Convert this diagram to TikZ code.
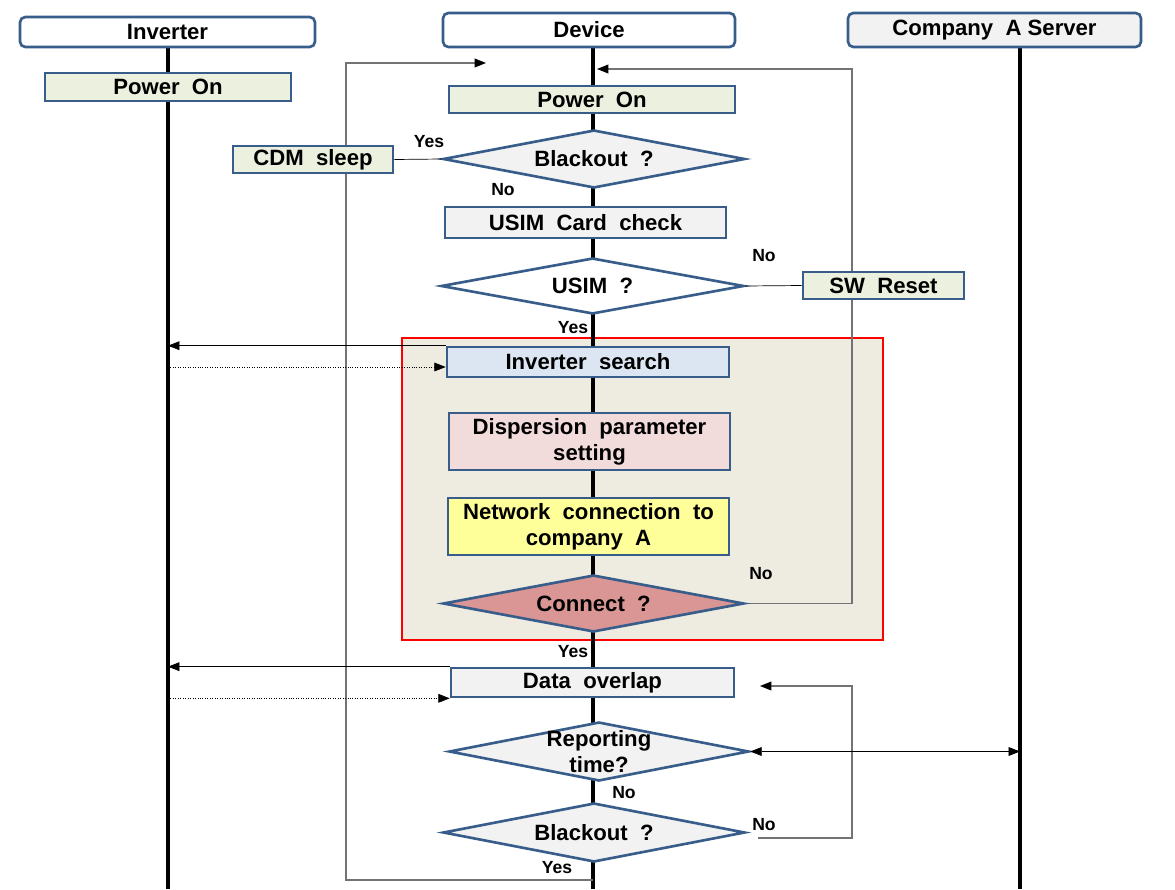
\documentclass[tikz,border=0pt]{standalone}
\usepackage{fontspec}
\setmainfont{Liberation Sans}
\usetikzlibrary{shapes.geometric,arrows.meta,calc}
\definecolor{bordc}{HTML}{385D8A}
\definecolor{grayf}{HTML}{F2F2F2}
\definecolor{greenf}{HTML}{EBF1DE}
\definecolor{bluef}{HTML}{DCE6F2}
\definecolor{pinkf}{HTML}{F2DCDB}
\definecolor{yellowf}{HTML}{FFFF99}
\definecolor{connf}{HTML}{D99694}
\definecolor{zonef}{HTML}{EEECE1}
\pgfdeclarelayer{back}
\pgfdeclarelayer{lines}
\pgfsetlayers{back,lines,main}
\begin{document}
\begin{tikzpicture}[x=0.02cm,y=-0.02cm,font=\fontsize{12.6}{15}\selectfont\bfseries,
	box/.style={draw=bordc,line width=1.5pt,inner sep=0,align=center},
	head/.style={box,rounded corners=3pt,fill=white},
	dia/.style={box,diamond,aspect=5},
	lbl/.style={font=\fontsize{10}{11}\selectfont\bfseries},
	life/.style={line width=2pt},
	arr/.style={-{Triangle[length=6.5pt,width=5pt,color=black]}},
	loop/.style={draw=black!55,line width=0.8pt}]
\useasboundingbox (0,0) rectangle (1175,889);
\node[head,minimum width=5.9cm,minimum height=0.6cm] (hinv) at (167.5,32) {Inverter};
\node[head,minimum width=5.84cm,minimum height=0.68cm] (hdev) at (589,30) {Device};
\node[head,fill=grayf,minimum width=5.86cm,minimum height=0.68cm] (hsrv) at (994.5,30) {Company \ A Server};
\coordinate (inv) at (168,47);
\coordinate (dev) at (593,47);
\coordinate (srv) at (1020,47);
\begin{pgfonlayer}{back}
\draw[red,line width=1.4pt,fill=zonef] (402,338) rectangle (883,640);
\end{pgfonlayer}
\node[box,fill=greenf,minimum width=4.92cm,minimum height=0.56cm] (ipow) at (168,87) {Power \ On};
\node[box,fill=greenf,minimum width=5.72cm,minimum height=0.54cm] (dpow) at (592,99.5) {Power \ On};
\node[dia,fill=grayf,minimum width=6.04cm,minimum height=1.16cm] (blk1) at (594,159) {Blackout \ ?};
\node[box,fill=greenf,minimum width=3.2cm,minimum height=0.54cm] (cdm) at (313,159.5) {CDM \ sleep};
\node[box,fill=grayf,minimum width=5.62cm,minimum height=0.62cm] (uchk) at (585.5,222.5) {USIM \ Card \ check};
\node[dia,fill=white,minimum width=6.06cm,minimum height=1.12cm] (usim) at (592.5,286) {USIM \ ?};
\node[box,fill=greenf,minimum width=3.22cm,minimum height=0.54cm] (swr) at (883.5,285.5) {SW \ Reset};
\node[box,fill=bluef,minimum width=5.64cm,minimum height=0.6cm] (isr) at (588,362) {Inverter \ search};
\node[box,fill=pinkf,minimum width=5.62cm,minimum height=1.14cm] (disp) at (589.5,441.5) {Dispersion \ parameter\\setting};
\node[box,fill=yellowf,minimum width=5.62cm,minimum height=1.14cm] (net) at (588.5,526.5) {Network \ connection \ to\\company \ A};
\node[dia,fill=connf,minimum width=6.02cm,minimum height=1.14cm] (conn) at (593.5,603.5) {Connect \ ?};
\node[box,fill=grayf,minimum width=5.66cm,minimum height=0.58cm] (dov) at (592.5,682.5) {Data \ overlap};
\node[dia,fill=grayf,minimum width=6cm,minimum height=1.18cm,label={[align=center]center:Reporting\\time?}] (rep) at (599,751.5) {};
\node[dia,fill=grayf,minimum width=6.04cm,minimum height=1.18cm] (blk2) at (594,832.5) {Blackout \ ?};
\node[lbl] (y1) at (429,142) {Yes};
\node[lbl] (n1) at (503,190) {No};
\node[lbl] (n2) at (764,256) {No};
\node[lbl] (y2) at (573,328) {Yes};
\node[lbl] (n3) at (761,574) {No};
\node[lbl] (y3) at (573,652) {Yes};
\node[lbl] (n4) at (624,793) {No};
\node[lbl] (n5) at (764,825) {No};
\node[lbl] (y4) at (557,868) {Yes};
\coordinate (i1) at ($(isr.west)+(0,5)$);
\coordinate (l1) at (593,880);
\coordinate (l2) at (486,63);
\coordinate (r1) at (597,69);
\coordinate (b1) at (758,838);
\coordinate (b2) at (760,686);
\begin{pgfonlayer}{lines}
\draw[life] (inv) -- (inv|-0,889);
\draw[life] (dev) -- (dev|-0,889);
\draw[life] (srv) -- (srv|-0,889);
\draw[loop,arr] (l1) -| (346,63) -- (l2);
\draw[loop,arr] (conn.east) -| (852,69) -- (r1);
\draw[loop,arr] (b1) -| (852,686) -- (b2);
\end{pgfonlayer}
\draw (blk1.west) -- (cdm.east);
\draw (usim.east) -- (swr.west);
\draw[arr] (isr.north west) -- (isr.north west-|inv);
\draw[arr,densely dotted] (i1-|inv) -- (i1);
\draw[arr] (dov.north west) -- (dov.north west-|inv);
\draw[arr,densely dotted] (dov.south west-|inv) -- (dov.south west);
\draw[{Triangle[length=6.5pt,width=5pt]}-{Triangle[length=6.5pt,width=5pt]}] (rep.east) -- (rep.east-|srv);
\end{tikzpicture}
\end{document}
